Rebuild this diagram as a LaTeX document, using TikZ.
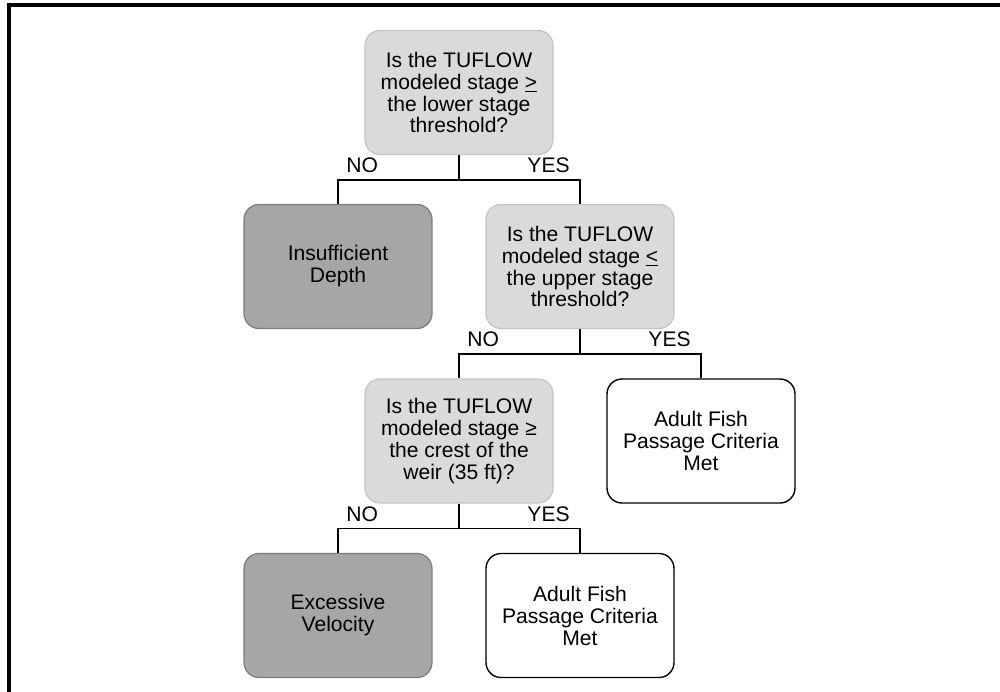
\documentclass[tikz,border=0pt]{standalone}
\usepackage{fontspec}
\setmainfont{Liberation Sans}
\usepackage{tikz}
\usetikzlibrary{positioning, calc}

\definecolor{askfill}{RGB}{218,218,218}
\definecolor{askline}{RGB}{196,196,196}
\definecolor{badfill}{RGB}{166,166,166}
\definecolor{badline}{RGB}{125,125,125}

\tikzset{
  box/.style={rounded corners=0.3cm, minimum width=3.76cm, minimum height=2.48cm,
    align=center, inner sep=2pt, font=\fontsize{12}{12.5}\selectfont},
  ask/.style={box, draw=askline, fill=askfill, line width=0.7pt},
  bad/.style={box, draw=badline, fill=badfill, line width=0.7pt},
  good/.style={box, draw=black, fill=white, line width=0.8pt},
  tree/.style={draw=black, line width=0.9pt},
  answer/.style={above=0.13cm, inner sep=0pt, font=\fontsize{12}{12.5}\selectfont}
}

\begin{document}
\begin{tikzpicture}
\useasboundingbox (0,0) rectangle (20,-13.82);
% frame
\draw[line width=1.8pt] (0.18,-13.9)--(0.18,-0.1)--(20.1,-0.1);

% first question
\node[ask] (q1) at (9.18,-1.85) {Is the TUFLOW\\modeled stage \underline{>}\\the lower stage\\threshold?};
\node[bad] (insuf) at (6.76,-5.33) {Insufficient\\Depth};
\node[ask] (q2) at (11.6,-5.33) {Is the TUFLOW\\modeled stage \underline{<}\\the upper stage\\threshold?};

% second question
\node[ask] (q3) at (9.18,-8.82) {Is the TUFLOW\\modeled stage ≥\\the crest of the\\weir (35 ft)?};
\node[good] (met1) at (14.02,-8.82) {Adult Fish\\Passage Criteria\\Met};

% third question
\node[bad] (vel) at (6.76,-12.31) {Excessive\\Velocity};
\node[good] (met2) at (11.6,-12.31) {Adult Fish\\Passage Criteria\\Met};

\draw[tree] (q1.south) -- ++(0,-0.5) coordinate (j1);
\draw[tree] (j1) -| node[answer, pos=0.4]{NO} (insuf.north);
\draw[tree] (j1) -| node[answer, pos=0.37]{YES} (q2.north);

\draw[tree] (q2.south) -- ++(0,-0.5) coordinate (j2);
\draw[tree] (j2) -| node[answer, pos=0.4]{NO} (q3.north);
\draw[tree] (j2) -| node[answer, pos=0.37]{YES} (met1.north);

\draw[tree] (q3.south) -- ++(0,-0.5) coordinate (j3);
\draw[tree] (j3) -| node[answer, pos=0.4]{NO} (vel.north);
\draw[tree] (j3) -| node[answer, pos=0.37]{YES} (met2.north);
\end{tikzpicture}
\end{document}
